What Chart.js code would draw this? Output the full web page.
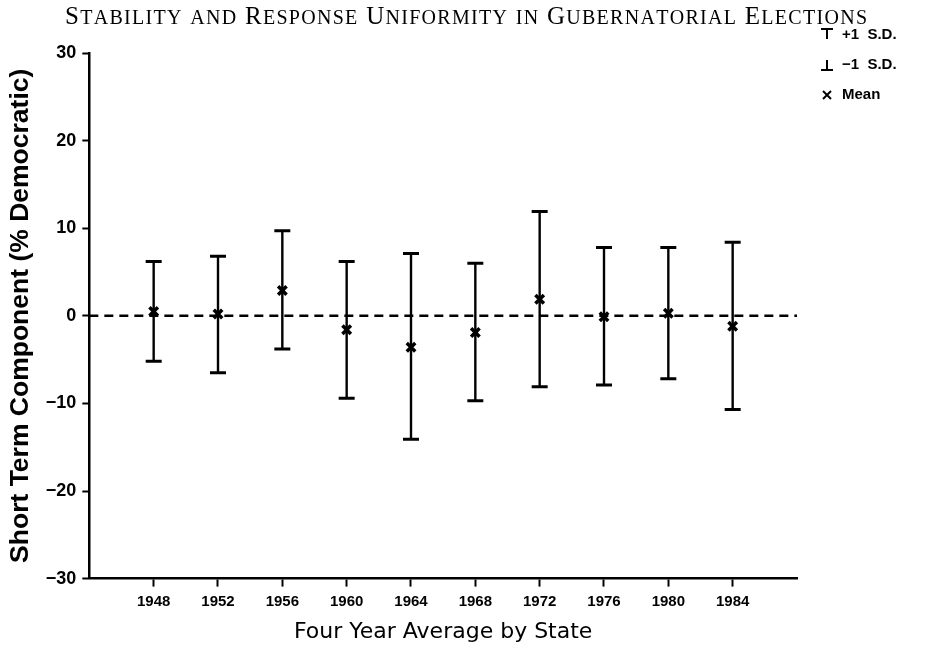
<!DOCTYPE html>
<html>
<head>
<meta charset="utf-8">
<script src="https://cdn.jsdelivr.net/npm/chart.js@4.4.1/dist/chart.umd.min.js"></script>
<style>
  body { margin: 0; background: #fff; }
  #wrap { width: 928px; height: 652px; }
</style>
</head>
<body>
<div id="wrap"><canvas id="chart"></canvas></div>
<script>
const years = [1948, 1952, 1956, 1960, 1964, 1968, 1972, 1976, 1980, 1984];
const meanValues = [0.5, 0.2, 2.9, -1.6, -3.6, -1.9, 1.9, -0.1, 0.3, -1.2];
const plusSD = [6.2, 6.8, 9.7, 6.2, 7.1, 6.0, 11.9, 7.8, 7.8, 8.4];
const minusSD = [-5.2, -6.5, -3.8, -9.4, -14.1, -9.7, -8.1, -7.9, -7.2, -10.7];
const yTicks = [-30, -20, -10, 0, 10, 20, 30];

const SANS = "'Liberation Sans', Arial, sans-serif";
const TITLE = 'Stability and Response Uniformity in Gubernatorial Elections';

// whiskers for +1 / -1 S.D., drawn through the chart's own scales
const errorBars = {
    id: 'errorBars',
    beforeDatasetsDraw(chart) {
        const ctx = chart.ctx;
        const xs = chart.scales.x, ys = chart.scales.y;
        ctx.save();
        ctx.strokeStyle = '#000';
        for (let i = 0; i < years.length; i++) {
            const x = xs.getPixelForValue(years[i]);
            const top = ys.getPixelForValue(plusSD[i]);
            const bot = ys.getPixelForValue(minusSD[i]);
            ctx.lineWidth = 2.4;
            ctx.beginPath();
            ctx.moveTo(x, top);
            ctx.lineTo(x, bot);
            ctx.stroke();
            ctx.lineWidth = 3;
            ctx.beginPath();
            ctx.moveTo(x - 8, top);
            ctx.lineTo(x + 8, top);
            ctx.moveTo(x - 8, bot);
            ctx.lineTo(x + 8, bot);
            ctx.stroke();
        }
        ctx.restore();
    }
};

// small caps title, drawn letter by letter
function drawSmallCaps(ctx, text, cx, baseline, big, small, width) {
    const parts = text.split('').map(ch => {
        const lower = ch !== ch.toUpperCase();
        return { ch: ch.toUpperCase(), font: (lower ? small : big) + "px 'Liberation Serif', serif" };
    });
    let natural = 0;
    parts.forEach(p => { ctx.font = p.font; p.w = ctx.measureText(p.ch).width; natural += p.w; });
    const gap = (width - natural) / (parts.length - 1);
    let x = cx - width / 2;
    ctx.textAlign = 'left';
    ctx.textBaseline = 'alphabetic';
    parts.forEach(p => { ctx.font = p.font; ctx.fillText(p.ch, x, baseline); x += p.w + gap; });
}

const decorations = {
    id: 'decorations',
    afterDraw(chart) {
        const ctx = chart.ctx;
        ctx.save();
        ctx.fillStyle = '#000';
        drawSmallCaps(ctx, TITLE, 466, 24, 25, 20, 802);

        ctx.font = 'bold 15px ' + SANS;
        ctx.textAlign = 'left';
        ctx.textBaseline = 'middle';
        ctx.strokeStyle = '#000';
        ctx.lineWidth = 2;
        const lx = 827;
        // +1 S.D.
        ctx.beginPath();
        ctx.moveTo(lx - 6, 29); ctx.lineTo(lx + 6, 29);
        ctx.moveTo(lx, 29); ctx.lineTo(lx, 39);
        ctx.stroke();
        ctx.fillText('+1  S.D.', 842, 35);
        // -1 S.D.
        ctx.beginPath();
        ctx.moveTo(lx - 6, 70); ctx.lineTo(lx + 6, 70);
        ctx.moveTo(lx, 70); ctx.lineTo(lx, 60);
        ctx.stroke();
        ctx.fillText('\u22121  S.D.', 842, 65);
        // Mean
        ctx.beginPath();
        ctx.moveTo(lx - 4, 91); ctx.lineTo(lx + 4, 99);
        ctx.moveTo(lx + 4, 91); ctx.lineTo(lx - 4, 99);
        ctx.stroke();
        ctx.fillText('Mean', 842, 95);
        ctx.restore();
    }
};

new Chart(document.getElementById('chart'), {
    type: 'scatter',
    data: {
        datasets: [{
            type: 'line',
            data: [{ x: 1944, y: 0 }, { x: 1988, y: 0 }],
            borderColor: '#000',
            borderWidth: 2.5,
            borderDash: [9, 6],
            pointRadius: 0,
            fill: false
        }, {
            data: years.map((y, i) => ({ x: y, y: meanValues[i] })),
            pointStyle: 'crossRot',
            pointRadius: 6,
            borderColor: '#000',
            borderWidth: 3.5
        }]
    },
    options: {
        responsive: true,
        maintainAspectRatio: false,
        animation: false,
        layout: { padding: { top: 53, right: 131, left: 5, bottom: 7 } },
        plugins: {
            legend: { display: false },
            tooltip: { enabled: false },
            title: { display: false }
        },
        scales: {
            x: {
                type: 'linear',
                min: 1944,
                max: 1988,
                afterBuildTicks(scale) {
                    scale.ticks = years.map(v => ({ value: v }));
                },
                grid: { drawOnChartArea: false, color: '#000', tickColor: '#000', tickWidth: 2, tickLength: 8 },
                border: { color: '#000', width: 2.5 },
                ticks: {
                    color: '#000',
                    font: { family: SANS, size: 15, weight: 'bold' },
                    padding: 6,
                    maxRotation: 0,
                    callback: v => String(v)
                },
                title: {
                    display: true,
                    text: 'Four Year Average by State',
                    color: '#000',
                    font: { family: "'DejaVu Sans', sans-serif", size: 22 },
                    padding: { top: 2, bottom: 0 }
                }
            },
            y: {
                min: -30,
                max: 30,
                afterBuildTicks(scale) {
                    scale.ticks = yTicks.map(v => ({ value: v }));
                },
                grid: { drawOnChartArea: false, color: '#000', tickColor: '#000', tickWidth: 2, tickLength: 7 },
                border: { color: '#000', width: 2.5 },
                ticks: {
                    color: '#000',
                    font: { family: SANS, size: 18, weight: 'bold' },
                    padding: 6,
                    callback: v => v < 0 ? '\u2212' + Math.abs(v) : String(v)
                },
                title: {
                    display: true,
                    text: 'Short Term Component (% Democratic)',
                    color: '#000',
                    font: { family: SANS, size: 26.5, weight: 'bold' },
                    padding: { top: 0, bottom: 3 }
                }
            }
        }
    },
    plugins: [errorBars, decorations]
});
</script>
</body>
</html>
